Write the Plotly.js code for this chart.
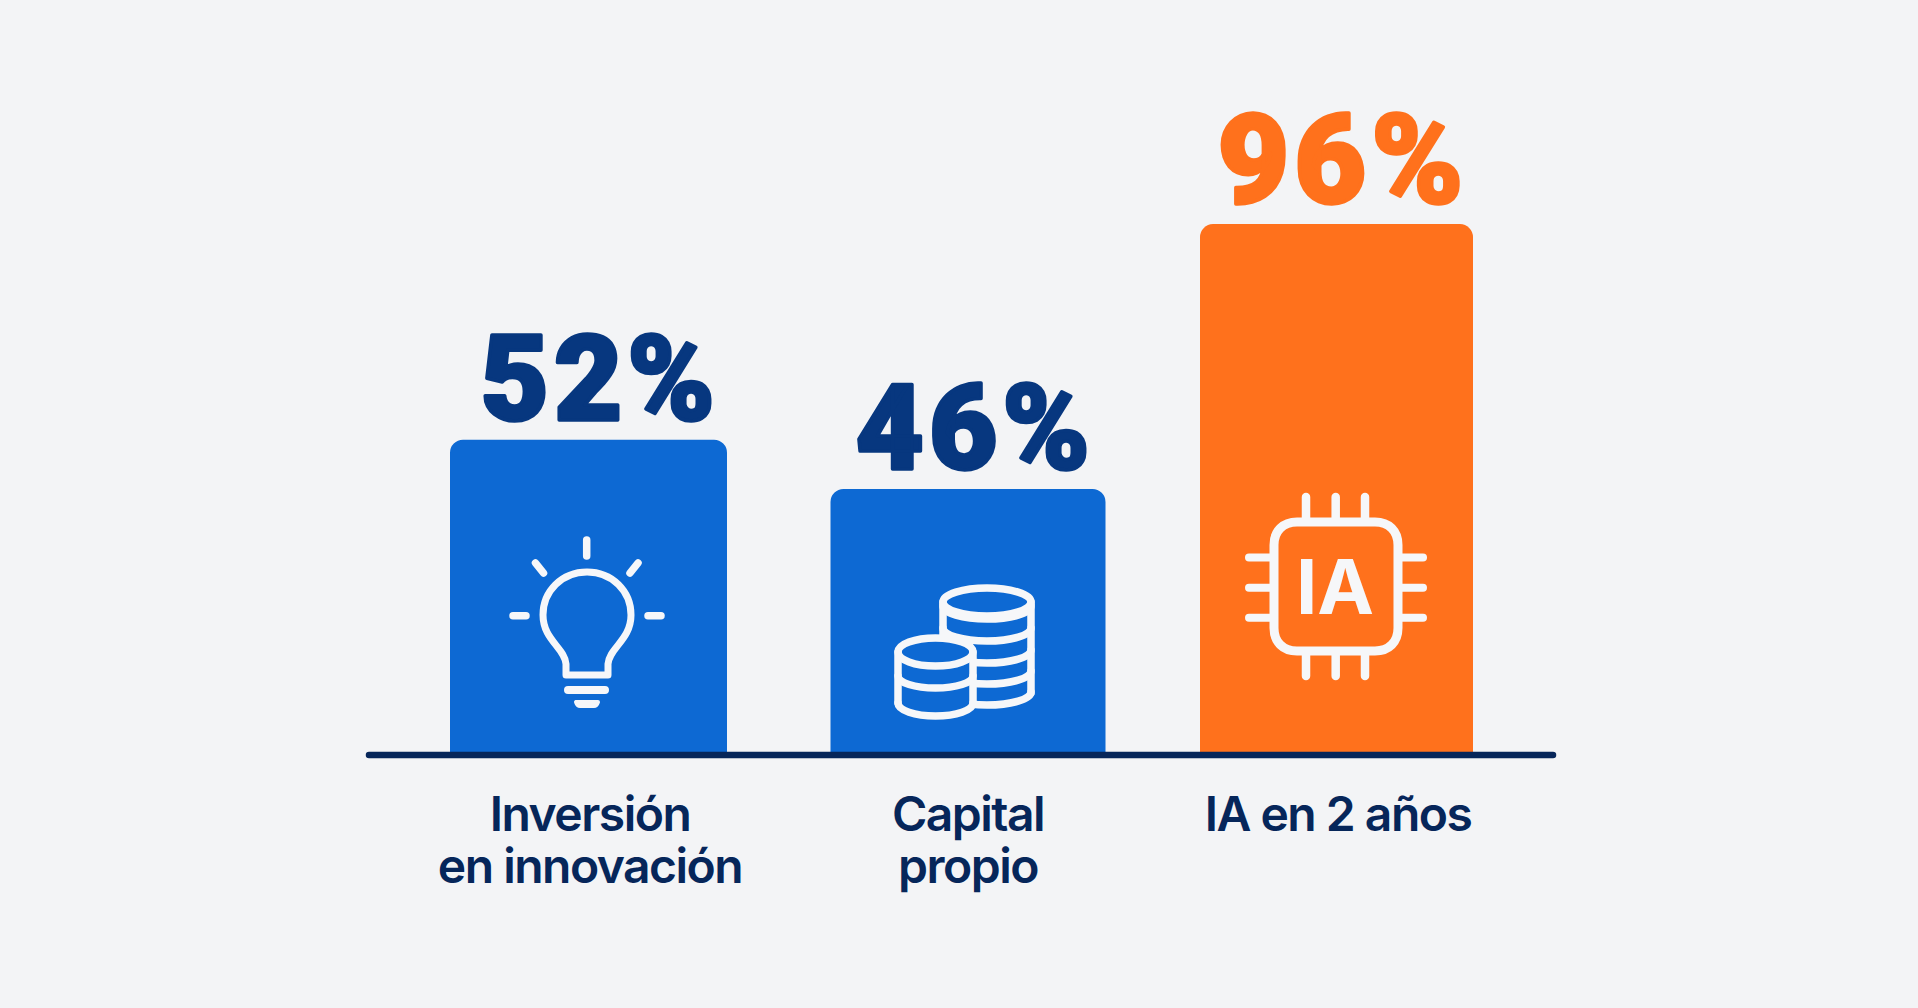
<!DOCTYPE html>
<html lang="es">
<head>
<meta charset="utf-8">
<script src="https://cdn.plot.ly/plotly-3.0.1.min.js"></script>
<style>
html,body{margin:0;padding:0;background:#f3f4f6;overflow:hidden}
#chart{width:1918px;height:1008px}
.shapelayer path{stroke-linecap:round;stroke-linejoin:round}
.xtick text{letter-spacing:-1.5px}
.annotation:not([data-index="3"]) .annotation-text{letter-spacing:5px;stroke-width:3.5px;stroke-linejoin:round}
.annotation[data-index="0"] .annotation-text,.annotation[data-index="1"] .annotation-text{stroke:#07377f}
.annotation[data-index="2"] .annotation-text{stroke:#ff711c}
</style>
</head>
<body>
<div id="chart"></div>
<script>
// Chart content
const categories = ["Inversión<br>en innovación", "Capital<br>propio", "IA en 2 años"];
const valueLabels = ["52%", "46%", "96%"];
// Bar heights as drawn in the reference (its bars are not strictly to scale with the printed percentages)
const drawnHeights = [57, 48.1, 96];

// Layout and style
const W = 1918, H = 1008, BASE = 755, UNIT = 5.53;
const barCentres = [588.5, 968, 1336.5];
const barWidths = [277, 275, 273];
const tickCentres = [590, 968, 1338];
const labelCentres = [600, 974.5, 1343];
const labelSizes = [118, 118, 124];
const labelShift = [-11, -11, -11];
const barColors = ["#0d69d3", "#0d69d3", "#ff711c"];
const labelColors = ["#07377f", "#07377f", "#ff711c"];
const NAVY = "#06265a", WHITE = "#f6f7f9";

const px = x => x / W;
const py = y => (BASE - y) / BASE;
// Converts an absolute pixel path into paper coordinates
function path(d) {
  return d.replace(/(-?[\d.]+) (-?[\d.]+)/g, (m, x, y) => px(+x).toFixed(5) + "," + py(+y).toFixed(5));
}
function stroke(d, width, fill) {
  return {type: "path", xref: "paper", yref: "paper", path: path(d),
    line: {color: WHITE, width: width}, fillcolor: fill || "rgba(0,0,0,0)"};
}
function ellipse(cx, cy, rx, ry) {
  const k = 0.5523, a = rx * k, b = ry * k;
  return `M ${cx - rx} ${cy} C ${cx - rx} ${cy - b} ${cx - a} ${cy - ry} ${cx} ${cy - ry} ` +
         `C ${cx + a} ${cy - ry} ${cx + rx} ${cy - b} ${cx + rx} ${cy} ` +
         `C ${cx + rx} ${cy + b} ${cx + a} ${cy + ry} ${cx} ${cy + ry} ` +
         `C ${cx - a} ${cy + ry} ${cx - rx} ${cy + b} ${cx - rx} ${cy} Z`;
}
function lowerArc(x0, x1, y, ry, cx) {
  const rx = (x1 - x0) / 2, a = rx * 0.5523, b = ry * 0.5523, c = cx || (x0 + x1) / 2;
  return `M ${x0} ${y} C ${x0} ${y + b} ${c - a} ${y + ry} ${c} ${y + ry} C ${c + a} ${y + ry} ${x1} ${y + b} ${x1} ${y}`;
}

const shapes = [];
// Baseline
shapes.push({type: "line", xref: "paper", yref: "paper", x0: px(369), x1: px(1553), y0: py(755), y1: py(755),
  line: {color: NAVY, width: 6.5}});

// Light bulb icon
[ "M 586.7 540 L 586.7 556", "M 535.5 563 L 543.5 573", "M 638 563 L 630 573",
  "M 513 615.7 L 526 615.7", "M 648 615.7 L 661 615.7" ].forEach(d => shapes.push(stroke(d, 7.5)));
shapes.push(stroke("M 566 675 L 566 664 C 565 648 543 640 543 615 C 543 591 562 572 587 572 C 612 572 631 591 631 615 C 631 640 609 648 608 664 L 608 675 Z", 7));
shapes.push(stroke("M 568 690 L 605 690", 8));
shapes.push(stroke("M 576 702 L 598 702 C 597 705 596 706 594 706 L 580 706 C 578 706 577 705 576 702 Z", 4, WHITE));

// Coins icon: upper stack, then lower stack painted over it
const uX0 = 943, uX1 = 1031, uC = 987;
shapes.push(stroke(ellipse(uC, 602, 44, 14), 7.5));
[ 618, 640, 662, 683 ].forEach(y => shapes.push(stroke(lowerArc(uX0, uX1, y - 12, 13, uC), 7.5)));
shapes.push(stroke(`M ${uX0} 602 L ${uX0} 693 M ${uX1} 602 L ${uX1} 693`, 7.5));
shapes.push(stroke(lowerArc(uX0, uX1, 692, 13, uC), 7.5));
const lC = 935.5, lX0 = 898, lX1 = 973;
shapes.push({type: "path", xref: "paper", yref: "paper",
  path: path(`M ${lX0} 652 L ${lX1} 652 L ${lX1} 705 L ${lC} 718 L ${lX0} 705 Z`),
  line: {width: 0}, fillcolor: barColors[1]});
shapes.push(stroke(ellipse(lC, 652, 37.5, 14), 7.5, barColors[1]));
shapes.push(stroke(lowerArc(lX0, lX1, 676, 12, lC), 7.5));
shapes.push(stroke(lowerArc(lX0, lX1, 703, 13, lC), 7.5));
shapes.push(stroke(`M ${lX0} 652 L ${lX0} 703 M ${lX1} 652 L ${lX1} 703`, 7.5));

// Chip icon
shapes.push(stroke("M 1297 522 L 1375 522 C 1389 522 1398 531 1398 545 L 1398 628 C 1398 642 1389 651 1375 651 L 1297 651 C 1283 651 1274 642 1274 628 L 1274 545 C 1274 531 1283 522 1297 522 Z", 9));
[1306, 1335.7, 1365].forEach(x => {
  shapes.push(stroke(`M ${x} 497 L ${x} 518`, 8.5));
  shapes.push(stroke(`M ${x} 655 L ${x} 676`, 8.5));
});
[557.4, 587.8, 617.7].forEach(y => {
  shapes.push(stroke(`M 1249 ${y} L 1270 ${y}`, 8));
  shapes.push(stroke(`M 1402 ${y} L 1423 ${y}`, 8));
});

const annotations = valueLabels.map((t, i) => ({
  x: labelCentres[i], y: drawnHeights[i], xref: "x", yref: "y",
  text: t, showarrow: false, xanchor: "center", yanchor: "bottom", yshift: labelShift[i],
  font: {family: "Roboto, 'Open Sans', sans-serif", size: labelSizes[i], weight: 900, color: labelColors[i]}
}));
const chipLabel = "IA";
annotations.push({
  x: px(1335), y: py(586), xref: "paper", yref: "paper",
  text: chipLabel, showarrow: false,
  xanchor: "center", yanchor: "middle",
  font: {family: "Inter, sans-serif", size: 76, weight: 700, color: WHITE}
});

const trace = {
  type: "bar",
  x: barCentres,
  y: drawnHeights,
  width: barWidths,
  marker: {color: barColors, line: {width: 0}},
  hoverinfo: "skip"
};

// Line pitch of tick labels follows the base size; the glyphs use a larger span size
const tickText = categories.map(c => c.split("<br>").map(l => `<span style="font-size:48px">${l}</span>`).join("<br>"));

const layout = {
  width: W, height: H,
  margin: {l: 0, r: 0, t: 0, b: H - BASE, pad: 0},
  paper_bgcolor: "#f3f4f6",
  plot_bgcolor: "#f3f4f6",
  showlegend: false,
  barcornerradius: 13,
  xaxis: {
    range: [0, W], showgrid: false, zeroline: false, showline: false, ticks: "",
    tickmode: "array", tickvals: tickCentres, ticktext: tickText, tickangle: 0,
    ticklabelstandoff: 35,
    tickfont: {family: "Inter, sans-serif", size: 40, weight: 600, color: NAVY},
    automargin: false
  },
  yaxis: {range: [0, BASE / UNIT], visible: false, showgrid: false, zeroline: false, fixedrange: true},
  shapes: shapes,
  annotations: annotations
};

Plotly.newPlot("chart", [trace], layout, {displayModeBar: false, staticPlot: true});
</script>
</body>
</html>
